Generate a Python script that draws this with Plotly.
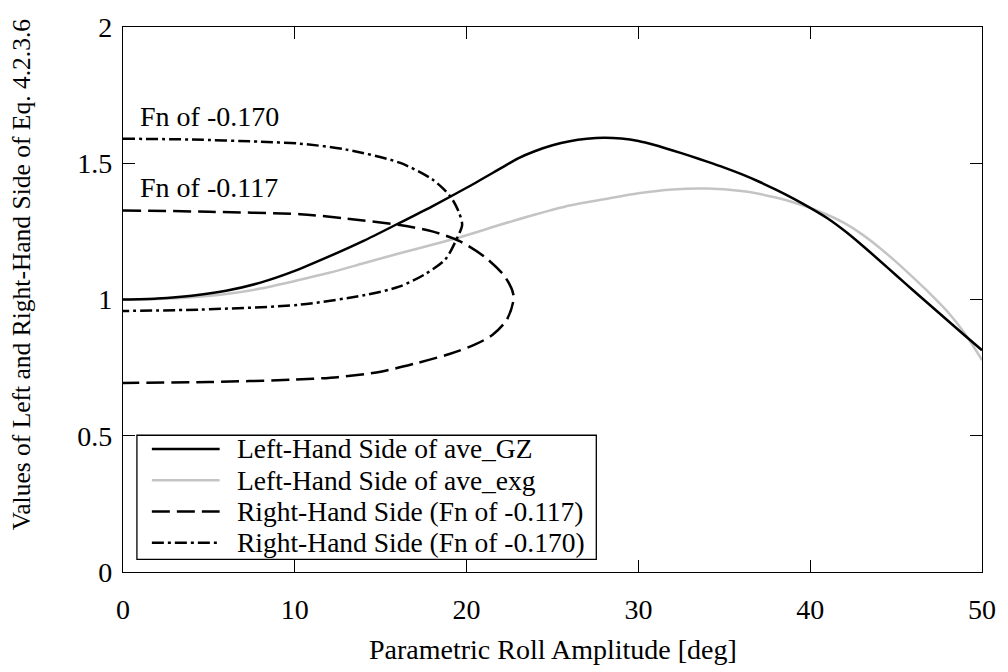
import plotly.graph_objects as go

# Left-hand side evaluated with ave_GZ: roll amplitude [deg] and value
gz_amp = [0, 2, 4, 6, 8, 10, 12, 14, 16, 18, 20, 22, 23, 24, 25, 26, 27, 28,
          29, 30, 31, 32, 33, 34, 35, 36, 37, 38, 39, 40, 41, 42, 43, 44,
          45, 46, 47, 48, 49, 50]
lhs_gz = [1.000, 1.004, 1.014, 1.032, 1.062, 1.105, 1.158, 1.215, 1.278, 1.342,
          1.410, 1.482, 1.518, 1.545, 1.566, 1.581, 1.590, 1.594,
          1.591, 1.582, 1.566, 1.547, 1.527, 1.506, 1.484, 1.460, 1.433, 1.403,
          1.371, 1.336, 1.298, 1.252, 1.200, 1.145, 1.089, 1.033, 0.978, 0.923,
          0.868, 0.814]

# Left-hand side evaluated with ave_exg
exg_amp = [0, 2, 4, 6, 8, 10, 12, 14, 16, 18, 20, 22, 24, 26, 28, 30,
           32, 34, 36, 37, 38, 39, 40, 41, 42, 43, 44, 45, 46, 47, 48, 49, 50]
lhs_exg = [1.000, 1.002, 1.008, 1.020, 1.040, 1.068, 1.098, 1.133, 1.168,
           1.201, 1.236, 1.275, 1.312, 1.345, 1.368, 1.390, 1.404, 1.407,
           1.398, 1.388, 1.374, 1.357, 1.336, 1.311, 1.280, 1.240, 1.192, 1.138,
           1.080, 1.020, 0.955, 0.875, 0.778]

# Right-hand side, Fn = -0.117 (upper branch out to the turning point, lower branch back)
rhs117_x = [0, 5, 10.3, 13, 16.1, 18, 19.6, 21.1, 22.25, 22.74,
            22.35, 21.5, 20.5, 19, 17, 15, 12.5, 10, 5, 0]
rhs117_y = [1.327, 1.322, 1.313, 1.297, 1.273, 1.250, 1.214, 1.154, 1.082, 1.011,
            0.927, 0.870, 0.835, 0.800, 0.765, 0.735, 0.715, 0.706, 0.697, 0.694]

# Right-hand side, Fn = -0.170
rhs170_x = [0, 4, 8, 10.3, 13, 16.1, 18, 19.06, 19.55, 19.74,
            19.45, 18.77, 17.61, 16.07, 14.13, 10.27, 4.47, 0]
rhs170_y = [1.590, 1.587, 1.579, 1.572, 1.550, 1.502, 1.441, 1.378, 1.320, 1.274,
            1.226, 1.148, 1.094, 1.047, 1.017, 0.981, 0.963, 0.958]

series_names = ["Left-Hand Side of ave_GZ", "Left-Hand Side of ave_exg",
                "Right-Hand Side (Fn of -0.117)", "Right-Hand Side (Fn of -0.170)"]
curve_labels = ["Fn of -0.170", "Fn of -0.117"]

x_ticks = [0, 10, 20, 30, 40, 50]
y_ticks = [0, 0.5, 1, 1.5, 2]
y_ticktext = ["0", "0.5", "1", "1.5", "2"]

FONT = "Liberation Serif"
FS = 28
BLACK = "#000000"
GRAY = "#c4c4c4"
DASH = "18px,7px"
DASHDOT = "12px,4px,3px,4px"
LW = 2.5

styles = [
    dict(color=BLACK, width=LW, dash="solid"),
    dict(color=GRAY, width=LW, dash="solid"),
    dict(color=BLACK, width=LW, dash=DASH),
    dict(color=BLACK, width=LW, dash=DASHDOT),
]

fig = go.Figure()
fig.add_trace(go.Scatter(x=exg_amp, y=lhs_exg, mode="lines", name=series_names[1],
                         line=dict(**styles[1], shape="spline", smoothing=0.8)))
fig.add_trace(go.Scatter(x=gz_amp, y=lhs_gz, mode="lines", name=series_names[0],
                         line=dict(**styles[0], shape="spline", smoothing=0.8)))
fig.add_trace(go.Scatter(x=rhs117_x, y=rhs117_y, mode="lines", name=series_names[2],
                         line=dict(**styles[2], shape="spline", smoothing=0.8)))
fig.add_trace(go.Scatter(x=rhs170_x, y=rhs170_y, mode="lines", name=series_names[3],
                         line=dict(**styles[3], shape="spline", smoothing=0.8)))
fig.update_traces(showlegend=False, hoverinfo="skip")

# Curve labels placed just above each right-hand-side curve start
for label, y0 in zip(curve_labels, [rhs170_y[0], rhs117_y[0]]):
    fig.add_annotation(x=0.9, y=y0, text=label, xref="x", yref="y",
                       xanchor="left", yanchor="bottom", yshift=5, showarrow=False,
                       font=dict(family=FONT, size=FS, color=BLACK))

# Legend box drawn in paper coordinates
box = dict(x0=0.0162, x1=0.5510, y0=0.0233, y1=0.2509)
fig.add_shape(type="rect", xref="paper", yref="paper", **box,
              line=dict(color=BLACK, width=1.3), fillcolor="white", layer="above")
rows = [0.2258, 0.1685, 0.1111, 0.0538]
for name, st, ry in zip(series_names, styles, rows):
    fig.add_shape(type="line", xref="paper", yref="paper", x0=0.0336, x1=0.1125,
                  y0=ry, y1=ry, line=dict(color=st["color"], width=st["width"], dash=st["dash"]),
                  layer="above")
    fig.add_annotation(x=0.1299, y=ry, xref="paper", yref="paper", text=name,
                       xanchor="left", yanchor="middle", showarrow=False,
                       font=dict(family=FONT, size=27.5, color=BLACK))

# Axis titles
fig.add_annotation(x=0.5, y=-0.143, xref="paper", yref="paper",
                   text="Parametric Roll Amplitude [deg]", showarrow=False,
                   xanchor="center", yanchor="middle",
                   font=dict(family=FONT, size=FS, color=BLACK))
fig.add_annotation(x=-0.1172, y=0.545, xref="paper", yref="paper",
                   text="Values of Left and Right-Hand Side of Eq. 4.2.3.6", showarrow=False,
                   textangle=-90, xanchor="center", yanchor="middle",
                   font=dict(family=FONT, size=25.5, color=BLACK))

axis_common = dict(showline=True, linecolor=BLACK, linewidth=1.4, mirror="ticks",
                   ticks="inside", ticklen=12, tickwidth=1.2, tickcolor=BLACK,
                   showgrid=False, zeroline=False, ticklabeloverflow="allow",
                   tickfont=dict(family=FONT, size=FS, color=BLACK))

fig.update_xaxes(range=[0, 50], tickvals=x_ticks, ticktext=[str(v) for v in x_ticks],
                 ticklabelstandoff=12, **axis_common)
fig.update_yaxes(range=[0, 2], tickvals=y_ticks, ticktext=y_ticktext,
                 ticklabelstandoff=4, **axis_common)

fig.update_layout(width=1008, height=672, margin=dict(l=123, r=23, t=14, b=100),
                  paper_bgcolor="white", plot_bgcolor="white",
                  font=dict(family=FONT, size=FS, color=BLACK))

fig.write_html("out.html")
